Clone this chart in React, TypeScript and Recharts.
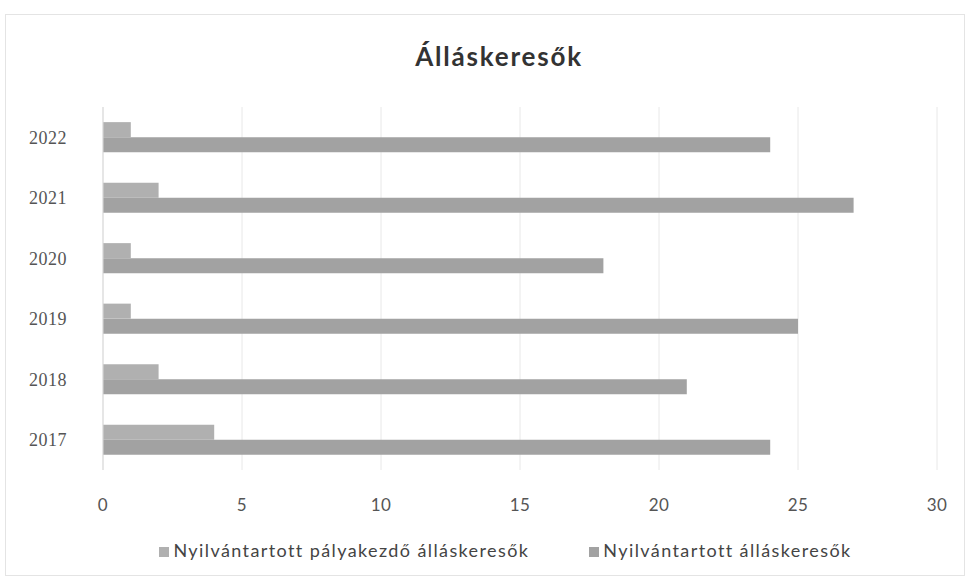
import { BarChart, Bar, XAxis, YAxis, CartesianGrid, Legend } from "recharts";

const years = ["2022", "2021", "2020", "2019", "2018", "2017"];
const palyakezdo = [1, 2, 1, 1, 2, 4];
const osszes = [24, 27, 18, 25, 21, 24];
const xTicks = [0, 5, 10, 15, 20, 25, 30];

const data = years.map((year, i) => ({
  year,
  palyakezdo: palyakezdo[i],
  osszes: osszes[i],
}));

export default function App() {
  return (
    <div style={{ position: "absolute", left: 0, top: 0, width: 970, height: 584, background: "#fff" }}>
      <div
        style={{
          position: "absolute",
          left: 5,
          top: 14,
          width: 958,
          height: 560,
          border: "1px solid #e4e4e4",
        }}
      />
      <div
        style={{
          position: "absolute",
          top: 40,
          left: 28,
          width: 942,
          textAlign: "center",
          fontFamily: "Lato, 'Open Sans', sans-serif",
          fontWeight: 700,
          fontSize: 26,
          letterSpacing: 1.8,
          color: "#333",
        }}
      >
        Álláskeresők
      </div>
      <BarChart
        width={970}
        height={584}
        data={data}
        layout="vertical"
        margin={{ top: 107, right: 33, bottom: 48, left: 0 }}
        barCategoryGap="25%"
        barGap={0}
      >
        <CartesianGrid horizontal={false} stroke="#e8e8e8" />
        <XAxis
          type="number"
          domain={[0, 30]}
          ticks={xTicks}
          axisLine={false}
          tickLine={false}
          height={44}
          tickMargin={23}
          tick={{ fontSize: 17, fill: "#555", fontFamily: "Lato, sans-serif", letterSpacing: 0.5 }}
        />
        <YAxis
          type="category"
          dataKey="year"
          width={103}
          axisLine={{ stroke: "#d9d9d9" }}
          tickLine={false}
          tickMargin={30}
          tick={{ fontSize: 18, fill: "#555", fontFamily: "'Liberation Serif', serif", letterSpacing: 0.5 }}
        />
        <Legend
          verticalAlign="bottom"
          iconType="square"
          iconSize={10}
          wrapperStyle={{ bottom: 23, left: 42, fontFamily: "Lato, sans-serif", fontSize: 18, letterSpacing: 1.4, color: "#444" }}
          formatter={(value, _entry, index) => (
            <span style={{ color: "#444", marginRight: index === 0 ? 50 : 0 }}>{value}</span>
          )}
        />
        <Bar
          dataKey="palyakezdo"
          name="Nyilvántartott pályakezdő álláskeresők"
          fill="#b0b0b0"
          isAnimationActive={false}
        />
        <Bar
          dataKey="osszes"
          name="Nyilvántartott álláskeresők"
          fill="#a2a2a2"
          isAnimationActive={false}
        />
      </BarChart>
    </div>
  );
}
